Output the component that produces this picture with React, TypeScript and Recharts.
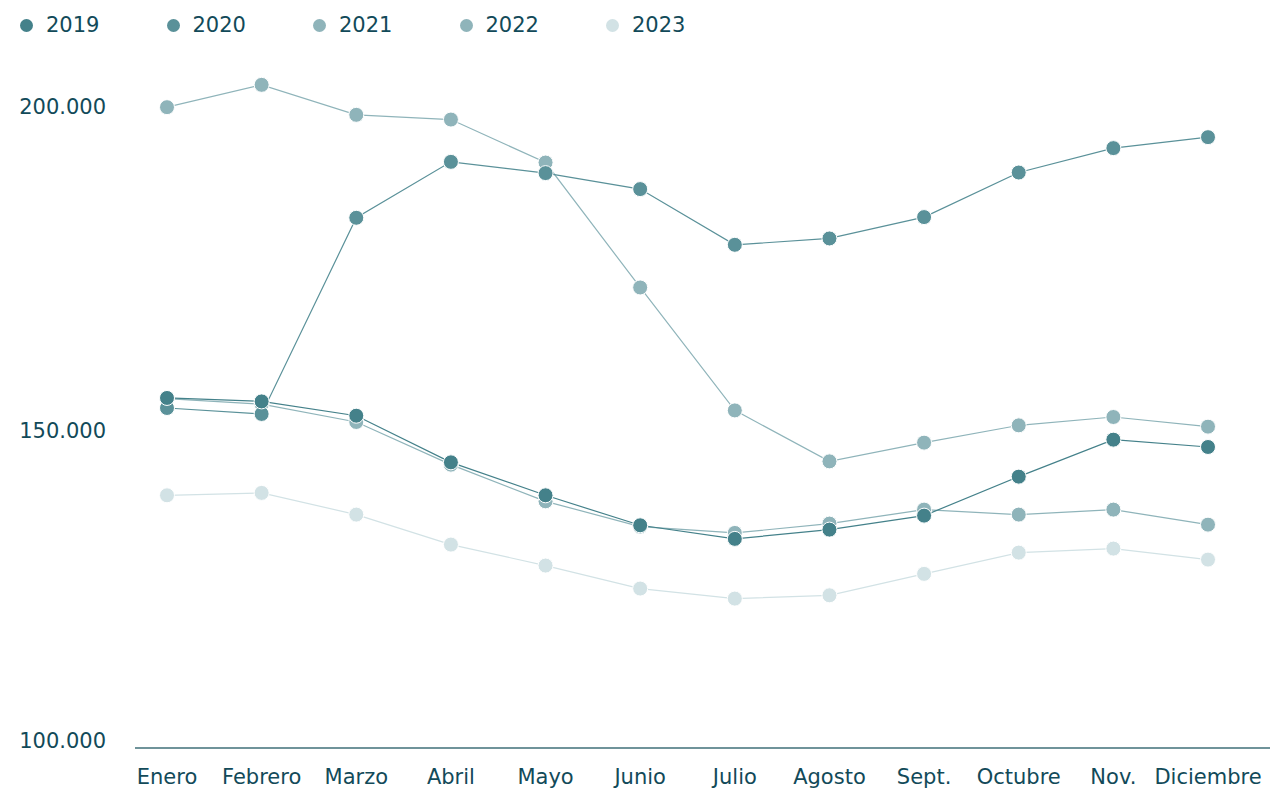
import React from 'react';
import { LineChart, Line, XAxis, YAxis } from 'recharts';

const MONTHS = ['Enero', 'Febrero', 'Marzo', 'Abril', 'Mayo', 'Junio', 'Julio', 'Agosto', 'Sept.', 'Octubre', 'Nov.', 'Diciembre'];

const S2019 = [155050, 154520, 152310, 145110, 140020, 135390, 133290, 134720, 136880, 142900, 148610, 147480];
const S2020 = [153500, 152580, 182870, 191510, 189770, 187300, 178700, 179680, 182980, 189860, 193630, 195320];
const S2021 = [199950, 203400, 198770, 198040, 191400, 172110, 153130, 145260, 148150, 150820, 152110, 150620];
const S2022 = [154940, 154090, 151340, 144750, 139090, 135190, 134210, 135650, 137810, 137040, 137810, 135490];
const S2023 = [140020, 140390, 137040, 132410, 129170, 125620, 124070, 124580, 127890, 131170, 131790, 130090];

const Y_TICKS = [100000, 150000, 200000];
const Y_DOMAIN: [number, number] = [101000, 206000];

const SERIES = [
  { key: '2019', values: S2019, color: '#44818a' },
  { key: '2020', values: S2020, color: '#5a9199' },
  { key: '2021', values: S2021, color: '#8fb4ba' },
  { key: '2022', values: S2022, color: '#8fb4ba' },
  { key: '2023', values: S2023, color: '#d2e2e5' },
];

const data = MONTHS.map((m, i) => {
  const row: Record<string, string | number> = { month: m };
  SERIES.forEach((s) => {
    row[s.key] = s.values[i];
  });
  return row;
});

const TEXT_COLOR = '#124a59';
const FONT = '"DejaVu Sans", sans-serif';

const fmt = (v: number) => v.toLocaleString('de-DE', { minimumFractionDigits: 3 }).replace(/,000$/, '') ;
const fmtThousands = (v: number) => {
  const s = String(Math.round(v));
  return s.replace(/\B(?=(\d{3})+(?!\d))/g, '.');
};

const YTick = (props: any) => {
  const { x, y, payload } = props;
  const below = payload.value < Y_DOMAIN[0];
  const yy = below ? y - 14 : y;
  return (
    <text x={x - 29} y={yy} dy="0.36em" textAnchor="end" fill={TEXT_COLOR} fontSize={21} fontFamily={FONT}>
      {fmtThousands(payload.value)}
    </text>
  );
};

const XTick = (props: any) => {
  const { x, y, payload } = props;
  return (
    <text x={x} y={y + 36} textAnchor="middle" fill={TEXT_COLOR} fontSize={21} fontFamily={FONT}>
      {payload.value}
    </text>
  );
};

const LegendBar = () => (
  <div
    style={{
      position: 'absolute',
      left: 20,
      top: 12,
      display: 'flex',
      fontFamily: FONT,
      fontSize: 21,
      color: TEXT_COLOR,
      lineHeight: '26px',
    }}
  >
    {SERIES.map((s) => (
      <div key={s.key} style={{ width: 146.5, display: 'flex', alignItems: 'center' }}>
        <span
          style={{
            display: 'inline-block',
            width: 13,
            height: 13,
            borderRadius: '50%',
            background: s.color,
            marginRight: 13,
          }}
        />
        <span>{s.key}</span>
      </div>
    ))}
  </div>
);

export default function App() {
  void fmt;
  return (
    <div style={{ position: 'absolute', left: 0, top: 0, width: 1271, height: 792, background: '#fff' }}>
      <LegendBar />
      <LineChart width={1271} height={792} data={data} margin={{ top: 68, right: 1, bottom: 0, left: 0 }}>
        <XAxis
          dataKey="month"
          padding={{ left: 32, right: 62 }}
          axisLine={{ stroke: '#3f6f78', strokeWidth: 1.5 }}
          tickLine={false}
          tickSize={0}
          tickMargin={0}
          interval={0}
          height={44}
          tick={<XTick />}
        />
        <YAxis
          type="number"
          domain={Y_DOMAIN}
          ticks={Y_TICKS}
          allowDataOverflow
          interval={0}
          axisLine={false}
          tickLine={false}
          tickSize={0}
          tickMargin={0}
          width={135}
          tick={<YTick />}
        />
        {[...SERIES].reverse().map((s) => (
          <Line
            key={s.key}
            type="linear"
            dataKey={s.key}
            stroke={s.color}
            strokeWidth={1.2}
            dot={{ r: 7.5, fill: s.color, stroke: '#ffffff', strokeWidth: 1 }}
            activeDot={false}
            isAnimationActive={false}
          />
        ))}
      </LineChart>
    </div>
  );
}
